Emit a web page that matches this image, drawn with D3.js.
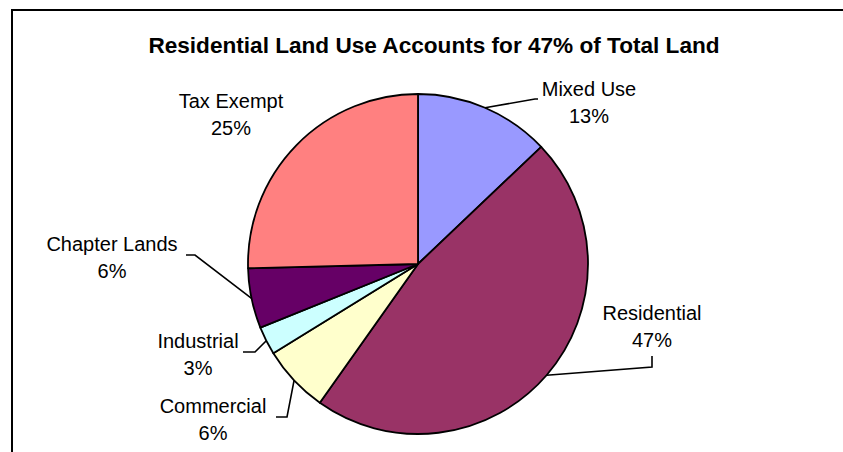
<!DOCTYPE html>
<html>
<head>
<meta charset="utf-8">
<script src="https://cdn.jsdelivr.net/npm/d3@7"></script>
<style>
  body { margin: 0; background: #fff; }
  text { font-family: "Liberation Sans", Arial, sans-serif; fill: #000; }
</style>
</head>
<body>
<svg width="843" height="452"></svg>
<script>
// données (pourcentages du total)
const categories = ['Mixed Use', 'Residential', 'Commercial', 'Industrial', 'Chapter Lands', 'Tax Exempt'];
const values = [12.9, 46.9, 6.4, 2.7, 5.7, 25.4];
const colors = ['#9999ff', '#993366', '#ffffcc', '#ccffff', '#660066', '#ff8080'];
const title = 'Residential Land Use Accounts for 47% of Total Land';

// placement des étiquettes : centre x, ligne de base, coude et bout du trait de rappel
const labelLayout = {
  'Mixed Use':     { x: 589, y: 96,  elbow: [535, 99],  tail: [538, 99] },
  'Residential':   { x: 652, y: 320, elbow: [652, 367], tail: [652, 356] },
  'Commercial':    { x: 213, y: 413, elbow: [287, 417], tail: [276, 417] },
  'Industrial':    { x: 198, y: 348, elbow: [255, 352], tail: [243, 352] },
  'Chapter Lands': { x: 112, y: 251, elbow: [195, 255], tail: [186, 255] },
  'Tax Exempt':    { x: 231, y: 108, elbow: null, tail: null }
};

const svg = d3.select('svg');
const cx = 418, cy = 264, r = 170;

// cadre du graphique (coupé à droite et en bas)
svg.append('rect')
  .attr('x', 12).attr('y', 10)
  .attr('width', 900).attr('height', 500)
  .attr('fill', 'none')
  .attr('stroke', '#000')
  .attr('stroke-width', 2);

// titre
svg.append('text')
  .attr('x', 434).attr('y', 53)
  .attr('text-anchor', 'middle')
  .attr('font-size', 22.6)
  .attr('font-weight', 'bold')
  .text(title);

const data = categories.map((c, i) => ({ name: c, value: values[i], color: colors[i] }));

const pie = d3.pie().sort(null).value(d => d.value);
const arcs = pie(data);

const arc = d3.arc().innerRadius(0).outerRadius(r);
const edge = d3.arc().innerRadius(r).outerRadius(r);

const g = svg.append('g').attr('transform', `translate(${cx},${cy})`);

g.selectAll('path.slice')
  .data(arcs)
  .join('path')
  .attr('class', 'slice')
  .attr('d', arc)
  .attr('fill', d => d.data.color)
  .attr('stroke', '#000')
  .attr('stroke-width', 1.8)
  .attr('stroke-linejoin', 'round');

// traits de rappel
arcs.forEach(a => {
  const lay = labelLayout[a.data.name];
  if (!lay.elbow) return;
  const p = edge.centroid(a);
  const pts = [[cx + p[0], cy + p[1]], lay.elbow, lay.tail];
  svg.append('path')
    .attr('d', d3.line()(pts))
    .attr('fill', 'none')
    .attr('stroke', '#000')
    .attr('stroke-width', 1.6);
});

// étiquettes : nom + pourcentage
arcs.forEach(a => {
  const lay = labelLayout[a.data.name];
  const t = svg.append('text')
    .attr('text-anchor', 'middle')
    .attr('font-size', 20);
  t.append('tspan').attr('x', lay.x).attr('y', lay.y).text(a.data.name);
  t.append('tspan').attr('x', lay.x).attr('y', lay.y + 26.5)
    .text(Math.round(a.data.value) + '%');
});
</script>
</body>
</html>
